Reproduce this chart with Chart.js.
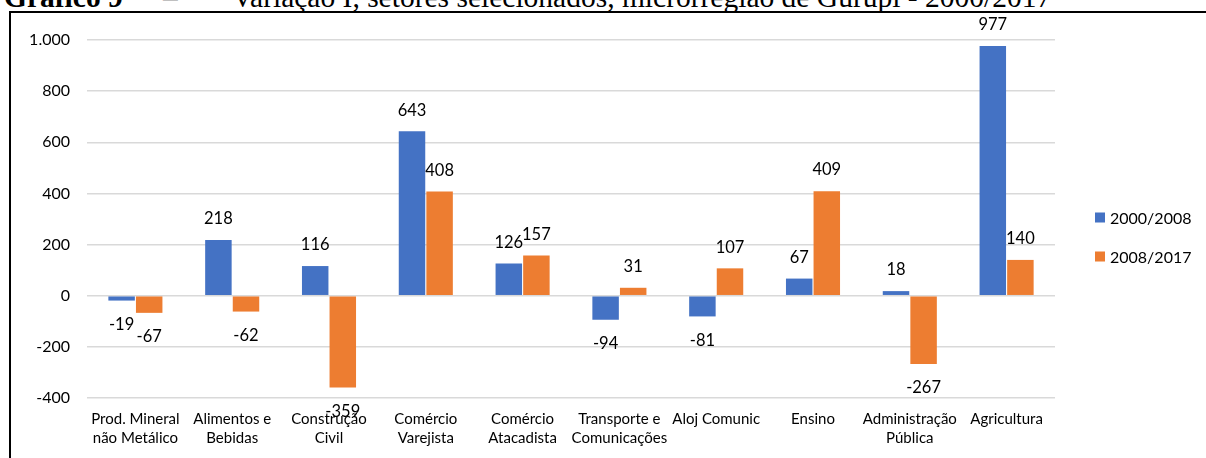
<!DOCTYPE html>
<html lang="pt-BR">
<head>
<meta charset="utf-8">
<title>Variação I, setores selecionados, microrregião de Gurupi</title>
<script src="https://cdn.jsdelivr.net/npm/chart.js@4.4.1/dist/chart.umd.min.js"></script>
<style>
  html, body { margin: 0; padding: 0; background: #fff; overflow: hidden; }
  body { width: 1206px; height: 458px; position: relative; }
  #titulo {
    position: absolute; left: 0; top: -17px; width: 1206px; height: 40px; white-space: nowrap;
    font-family: "Liberation Serif", "Times New Roman", serif; font-size: 29.5px; line-height: 1;
    color: #000;
  }
  #titulo span { position: absolute; top: 0; }
  #titulo .num { left: 4px; font-weight: bold; }
  #titulo .traco { left: 163px; }
  #titulo .texto { left: 232px; }
  #moldura {
    position: absolute; left: 9px; top: 11px; width: 1220px; height: 470px;
    border-left: 2px solid #000; border-top: 2px solid #000;
  }
  #grafico { position: absolute; left: 0; top: 0; }
</style>
</head>
<body>
<div id="titulo"><span class="num">Gráfico 9</span><span class="traco">–</span><span class="texto">Variação I, setores selecionados, microrregião de Gurupi - 2000/2017</span></div>
<div id="moldura"></div>
<canvas id="grafico" width="1206" height="458"></canvas>
<script>
// Setores (rótulos do eixo horizontal, em duas linhas quando necessário)
const setores = [
  ["Prod. Mineral", "não Metálico"],
  ["Alimentos e", "Bebidas"],
  ["Construção", "Civil"],
  ["Comércio", "Varejista"],
  ["Comércio", "Atacadista"],
  ["Transporte e", "Comunicações"],
  "Aloj Comunic",
  "Ensino",
  ["Administração", "Pública"],
  "Agricultura"
];

// Variação do emprego por período
const periodos = ["2000/2008", "2008/2017"];
const variacao2000a2008 = [-19, 218, 116, 643, 126, -94, -81, 67, 18, 977];
const variacao2008a2017 = [-67, -62, -359, 408, 157, 31, 107, 409, -267, 140];

// Eixo vertical
const eixoMin = -400;
const eixoMax = 1000;
const eixoPasso = 200;

const cores = ["#4472C4", "#ED7D31"];
const fonteTexto = "Lato, 'Open Sans', sans-serif";

const fmt = new Intl.NumberFormat("pt-BR");

// Rótulos de valor na ponta de cada barra
const rotulosValor = {
  id: "rotulosValor",
  afterDatasetsDraw(chart) {
    const ctx = chart.ctx;
    ctx.save();
    ctx.font = "16.5px " + fonteTexto;
    ctx.fillStyle = "#000";
    ctx.textAlign = "center";
    ctx.textBaseline = "middle";
    chart.data.datasets.forEach((ds, i) => {
      const meta = chart.getDatasetMeta(i);
      meta.data.forEach((bar, j) => {
        const v = ds.data[j];
        const y = v >= 0 ? bar.y - 21 : bar.y + 24;
        ctx.fillText(fmt.format(v), bar.x, y);
      });
    });
    ctx.restore();
  }
};

// Legenda à direita da área de plotagem
const legendaLateral = {
  id: "legendaLateral",
  afterDraw(chart) {
    const ctx = chart.ctx;
    const area = chart.chartArea;
    const x0 = area.right + 40;
    const yMeio = (area.top + area.bottom) / 2;
    ctx.save();
    ctx.font = "16px " + fonteTexto;
    ctx.textBaseline = "middle";
    ctx.textAlign = "left";
    chart.data.datasets.forEach((ds, i) => {
      const y = yMeio - 1.5 + i * 39;
      ctx.fillStyle = ds.backgroundColor;
      ctx.fillRect(x0, y - 5, 10, 10);
      ctx.fillStyle = "#000";
      ctx.fillText(ds.label, x0 + 15, y + 1);
    });
    ctx.restore();
  }
};

new Chart(document.getElementById("grafico"), {
  type: "bar",
  data: {
    labels: setores,
    datasets: [
      { label: periodos[0], data: variacao2000a2008, backgroundColor: cores[0] },
      { label: periodos[1], data: variacao2008a2017, backgroundColor: cores[1] }
    ]
  },
  options: {
    responsive: false,
    animation: false,
    devicePixelRatio: 1,
    layout: { padding: { left: 10, top: 40, right: 151, bottom: 0 } },
    datasets: { bar: { categoryPercentage: 0.57, barPercentage: 0.96, borderWidth: 0 } },
    plugins: { legend: { display: false }, tooltip: { enabled: false } },
    scales: {
      x: {
        grid: { display: false, drawTicks: false },
        border: { display: false },
        ticks: {
          color: "#000", padding: 12, maxRotation: 0, autoSkip: false,
          font: { family: fonteTexto, size: 15, lineHeight: 1.27 }
        },
        afterFit(scale) { scale.height = 60; }
      },
      y: {
        min: eixoMin, max: eixoMax,
        grid: { color: "#d9d9d9", lineWidth: 1.5, drawTicks: false },
        border: { display: false },
        ticks: {
          stepSize: eixoPasso, color: "#000", padding: 17,
          font: { family: fonteTexto, size: 16 },
          callback: (v) => fmt.format(v)
        },
        afterFit(scale) { scale.width = 77; }
      }
    }
  },
  plugins: [rotulosValor, legendaLateral]
});
</script>
</body>
</html>
